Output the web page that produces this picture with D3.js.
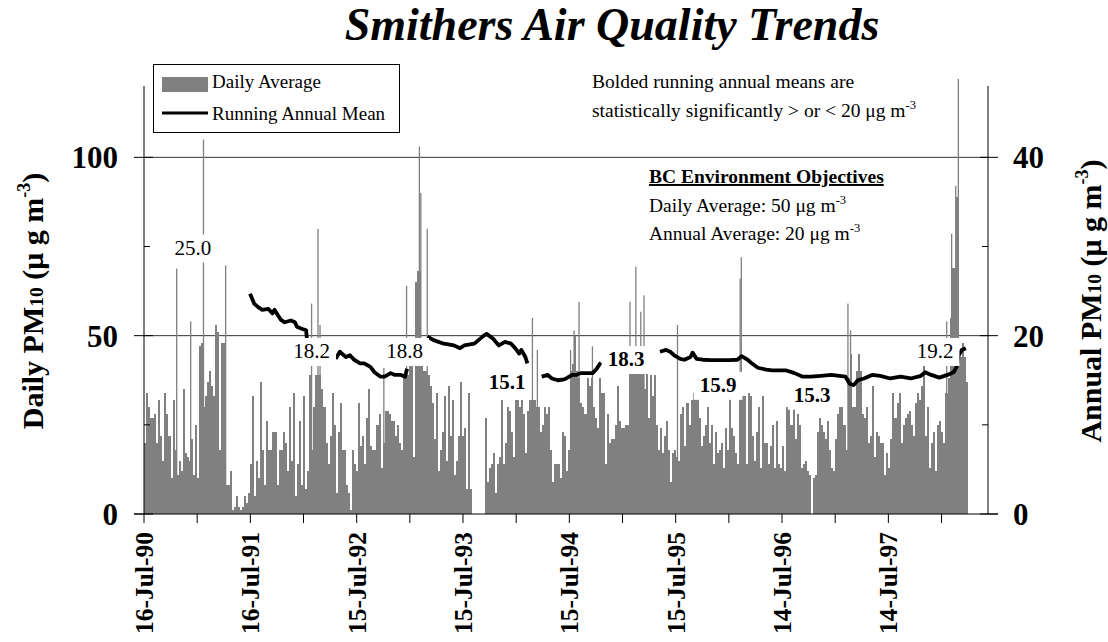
<!DOCTYPE html>
<html>
<head>
<meta charset="utf-8">
<script src="https://cdn.jsdelivr.net/npm/d3@7"></script>
<style>
  body { margin: 0; background: #fff; }
  text { font-family: "Liberation Serif", "Times New Roman", serif; fill: #000; }
</style>
</head>
<body>
<svg id="chart" width="1108" height="642"></svg>
<script>
// daily PM10 at one value per week starting 16-Jul-90
const startDay = "1990-07-16";
const stepDays = 7;
const weeklyPM10 = [
  20,34,30,27,27,28,20,32,22,15, 34,28,22,10,32,18,11,15,12,35,
  17,16,15,21,11,25,10,47,48,30, 33,37,40,36,33,53,51,18,48,48,
  8,8,12,1,2,5,2,1,2,5, 3,6,14,33,5,15,10,37,18,8,
  26,18,18,23,23,8,18,18,23,20, 12,30,15,34,5,14,26,8,33,7,
  12,39,18,30,39,39,39,35,30,20, 14,22,34,25,6,23,31,18,18,8,
  6,1,18,14,12,31,19,22,14,27, 35,19,18,18,25,28,13,20,29,29,
  28,26,26,22,25,20,18,39,39,39, 42,42,16,65,68,68,44,40,40,39,
  36,31,21,34,12,18,23,33,15,36, 22,32,11,15,22,37,22,24,7,34,
  7,null,null,null,null,null,null,27,9,13, 14,17,6,14,16,32,14,20,30,29,
  23,16,32,32,30,32,28,17,29,32, 32,32,30,30,23,25,30,28,30,18,
  9,14,14,14,10,23,22,12,18,40, 42,50,40,38,31,30,28,38,36,38,
  30,27,24,38,34,34,14,28,20,21, 21,25,36,26,24,24,25,25,42,40,
  42,42,40,42,42,35,42,27,39,33, 39,25,18,24,17,22,26,18,9,17,
  18,16,15,28,30,19,31,25,32,34, 33,33,27,19,22,25,30,20,25,14,
  23,17,18,20,13,24,18,33,24,22, 17,14,34,33,33,14,34,33,22,15,
  23,30,13,33,20,20,14,19,25,13, 26,14,13,19,12,30,30,25,30,21,
  28,25,13,14,15,12,11,null,10,11, 23,27,25,23,21,26,18,13,12,21,
  28,30,30,25,18,38,45,30,30,40, 45,40,28,27,30,20,22,36,16,23,
  22,20,20,11,17,13,21,34,27,31, 34,20,25,27,28,29,25,22,31,34,
  32,36,42,22,30,13,20,23,12,25, 26,23,20,34,38,55,69,69,89,44,
  44,48,44,37
];

// single high days
const spikeDates = [
  "1990-11-03","1990-12-21","1991-02-03","1991-04-20","1992-02-09","1992-03-02",
  "1992-03-09","1992-10-14","1992-12-31","1993-02-13","1993-02-18","1993-03-12",
  "1994-03-08","1994-03-25","1994-07-17","1994-07-29","1994-08-15","1994-09-30",
  "1995-02-06","1995-02-26","1995-03-15","1995-03-26","1995-07-19","1996-02-19",
  "1996-02-23","1997-02-23","1997-03-04","1998-01-28","1998-02-14","1998-02-28",
  "1998-03-09"
];
const spikeValues = [
  68.8,54,105,69.7,59,80, 53,41,64,103,90,80, 55,46,46,51.5,59.5,47,
  59.5,69.3,56.7,61.3,53,66, 72,59,51.5,54,78.6,92, 122
];

// running annual mean (right axis), week number since start; null breaks the line
const meanWeeks = [
  52,54,56,58,61,63,64,67,69,72,74,75,77,79.5,80, 81,
  94,96,99,101,103,106,108,111,113,116,118,121,123,126,128,129, 130,
  139,142,147,152,155,157,162,166,168,171,174,177,180,182,184,185,187,188, 189,
  195,198,200,203,206,207,210,212,214,216,220,222,224, 225,
  253,256,258,260,263,265,268,269,271,274,278,283,287,291,293,296,298,301,305,308,
  312,315,319,323,327,332,337,341,344,346,348,350,353,357,361,366,371,376,381,383,
  386,390,394,397,398.5,399.5,401,403
];
const meanValues = [
  24.7,23.6,23.2,22.9,23.0,22.5,22.9,21.8,21.5,21.7,21.5,21.0,20.8,20.6,19.3, null,
  17.4,18.2,17.6,17.8,17.3,16.9,16.9,16.5,15.9,15.4,15.4,15.8,15.6,15.6,15.4,16.3, null,
  19.9,19.5,19.1,18.9,18.6,18.9,19.1,19.9,20.2,19.7,18.9,19.3,19.1,18.6,18.0,18.4,17.6,16.9, null,
  15.4,15.6,15.2,15.0,15.1,15.2,15.6,15.6,15.8,15.8,15.8,16.3,17.0, null,
  18.2,18.4,18.2,17.8,17.4,17.3,17.6,18.1,17.4,17.3,17.25,17.25,17.25,17.3,17.7,17.3,16.9,16.4,16.2,16.1,
  16.1,16.1,15.8,15.4,15.4,15.5,15.6,15.5,15.4,14.6,14.45,15.0,15.2,15.6,15.5,15.2,15.4,15.2,15.5,15.9,
  15.6,15.3,15.6,15.9,16.5,17.8,18.4,18.6
];

const tickDates = ["1990-07-16","1991-07-16","1992-07-15","1993-07-15","1994-07-15","1995-07-15","1996-07-14","1997-07-14"];
const tickLabels = ["16-Jul-90","16-Jul-91","15-Jul-92","15-Jul-93","15-Jul-94","15-Jul-95","14-Jul-96","14-Jul-97"];
const leftTicks = [0, 25, 50, 75, 100];
const rightTicks = [0, 10, 20, 30, 40];
const gridValues = [50, 100];

// annual mean labels (week, right-axis value)
const labelText = ["25.0","18.2","18.8","15.1","18.3","15.9","15.3","19.2"];
const labelWeeks = [24.0, 82.2, 127.8, 178.0, 236.4, 281.5, 327.6, 387.9];
const labelValues = [29.1, 17.5, 17.5, 14.0, 16.6, 13.7, 12.6, 17.5];
const labelBold = [false, false, false, true, true, true, true, false];

const svg = d3.select("#chart");
const parse = d3.utcParse("%Y-%m-%d");
const day = 864e5;
const t0 = parse(startDay);
const weekDate = w => new Date(t0.getTime() + w * stepDays * day);

const x = d3.scaleUtc().domain([t0, parse("1998-06-21")]).range([144, 988]);
const yL = d3.scaleLinear().domain([0, 120]).range([514, 86]);
const yR = d3.scaleLinear().domain([0, 48]).range([514, 86]);

// gridlines
svg.append("g").selectAll("line").data(gridValues).join("line")
  .attr("x1", 144).attr("x2", 988)
  .attr("y1", d => yL(d)).attr("y2", d => yL(d))
  .attr("stroke", "#333").attr("stroke-width", 1);

// weekly bars
const bars = weeklyPM10.map((v, i) => ({ i, v })).filter(d => d.v != null);
svg.append("g").selectAll("rect").data(bars).join("rect")
  .attr("x", d => x(weekDate(d.i)))
  .attr("width", d => x(weekDate(d.i + 1)) - x(weekDate(d.i)))
  .attr("y", d => yL(d.v))
  .attr("height", d => yL(0) - yL(d.v))
  .attr("fill", "#808080")
  .attr("shape-rendering", "crispEdges");

// spikes
svg.append("g").selectAll("rect").data(spikeDates).join("rect")
  .attr("x", d => x(parse(d)))
  .attr("width", 1.3)
  .attr("y", (d, i) => yL(spikeValues[i]))
  .attr("height", (d, i) => yL(0) - yL(spikeValues[i]))
  .attr("fill", "#808080");

// running annual mean
const line = d3.line()
  .defined((d, i) => meanValues[i] != null)
  .x(d => x(weekDate(d)))
  .y((d, i) => yR(meanValues[i]));
svg.append("path")
  .attr("d", line(meanWeeks))
  .attr("fill", "none").attr("stroke", "#000").attr("stroke-width", 3.8)
  .attr("stroke-linejoin", "round");

// mean labels with white boxes
const lab = svg.append("g");
labelText.forEach((t, i) => {
  const g = lab.append("g");
  const tx = g.append("text")
    .attr("x", x(weekDate(labelWeeks[i])))
    .attr("y", yR(labelValues[i]))
    .attr("text-anchor", "middle")
    .attr("font-size", 21)
    .attr("font-weight", labelBold[i] ? "bold" : "normal")
    .text(t);
  const b = tx.node().getBBox();
  g.insert("rect", "text")
    .attr("x", b.x - 6).attr("y", b.y - 1)
    .attr("width", b.width + 12).attr("height", b.height + 4)
    .attr("fill", "#fff");
});

// axes
const ax = svg.append("g").attr("stroke", "#000").attr("stroke-width", 1);
ax.append("line").attr("x1", 144).attr("x2", 144).attr("y1", 86).attr("y2", 514);
ax.append("line").attr("x1", 988).attr("x2", 988).attr("y1", 86).attr("y2", 514);
ax.append("line").attr("x1", 134).attr("x2", 998).attr("y1", 514).attr("y2", 514);
leftTicks.forEach(v => {
  const major = v % 50 === 0;
  ax.append("line").attr("x1", major ? 134 : 144).attr("x2", major ? 153 : 150)
    .attr("y1", yL(v)).attr("y2", yL(v));
});
rightTicks.forEach(v => {
  const major = v % 20 === 0;
  ax.append("line").attr("x1", major ? 980 : 982).attr("x2", major ? 998 : 988)
    .attr("y1", yR(v)).attr("y2", yR(v));
});
// x ticks: yearly labels plus a half-way tick
const xTicks = [];
tickDates.forEach((d, i) => {
  const t = parse(d);
  xTicks.push(t);
  const next = i < tickDates.length - 1 ? parse(tickDates[i + 1]) : d3.utcDay.offset(t, 365);
  xTicks.push(new Date((t.getTime() + next.getTime()) / 2));
});
xTicks.forEach(t => {
  ax.append("line").attr("x1", x(t)).attr("x2", x(t)).attr("y1", 514).attr("y2", 523);
});

// tick labels
svg.append("g").selectAll("text").data(leftTicks.filter(v => v % 50 === 0)).join("text")
  .attr("x", 118).attr("y", d => yL(d)).attr("dy", "0.35em")
  .attr("text-anchor", "end").attr("font-size", 31).attr("font-weight", "bold")
  .text(d => d);
svg.append("g").selectAll("text").data(rightTicks.filter(v => v % 20 === 0)).join("text")
  .attr("x", 1013).attr("y", d => yR(d)).attr("dy", "0.35em")
  .attr("font-size", 31).attr("font-weight", "bold")
  .text(d => d);
svg.append("g").selectAll("text").data(tickDates).join("text")
  .attr("transform", d => `translate(${x(parse(d)) + 9},532) rotate(-90)`)
  .attr("text-anchor", "end").attr("font-size", 25.5).attr("font-weight", "bold")
  .text((d, i) => tickLabels[i]);

// axis titles
function unitTitle(tx, lead) {
  tx.append("tspan").text(lead + "PM");
  tx.append("tspan").attr("font-size", "65%").text("10");
  tx.append("tspan").text(" (\u03bc g m");
  tx.append("tspan").attr("font-size", "60%").attr("dy", "-0.75em").text("-3");
  tx.append("tspan").attr("dy", "0.45em").text(")");
}
unitTitle(svg.append("text")
  .attr("transform", "translate(43,301) rotate(-90)")
  .attr("text-anchor", "middle").attr("font-size", 30).attr("font-weight", "bold"), "Daily ");
unitTitle(svg.append("text")
  .attr("transform", "translate(1101,301) rotate(-90)")
  .attr("text-anchor", "middle").attr("font-size", 30).attr("font-weight", "bold"), "Annual ");

// title
svg.append("text")
  .attr("x", 612).attr("y", 40).attr("text-anchor", "middle")
  .attr("font-size", 46).attr("font-weight", "bold").attr("font-style", "italic")
  .text("Smithers Air Quality Trends");

// legend
const lg = svg.append("g");
lg.append("rect").attr("x", 153.5).attr("y", 64.5).attr("width", 246).attr("height", 68)
  .attr("fill", "#fff").attr("stroke", "#000");
lg.append("rect").attr("x", 162).attr("y", 77).attr("width", 46).attr("height", 15).attr("fill", "#808080");
lg.append("line").attr("x1", 162).attr("x2", 208).attr("y1", 113).attr("y2", 113)
  .attr("stroke", "#000").attr("stroke-width", 3);
lg.append("text").attr("x", 212).attr("y", 88).attr("font-size", 19).text("Daily Average");
lg.append("text").attr("x", 212).attr("y", 120).attr("font-size", 19).text("Running Annual Mean");

// notes
function unitLine(tx, txt) {
  tx.append("tspan").text(txt + " \u03bcg m");
  tx.append("tspan").attr("font-size", "65%").attr("dy", "-0.6em").text("-3");
}
svg.append("text").attr("x", 592).attr("y", 88).attr("font-size", 19.5)
  .text("Bolded running annual means are");
unitLine(svg.append("text").attr("x", 592).attr("y", 117).attr("font-size", 19.5),
  "statistically significantly > or < 20");
svg.append("text").attr("x", 649).attr("y", 183).attr("font-size", 19.5)
  .attr("font-weight", "bold").attr("text-decoration", "underline")
  .text("BC Environment Objectives");
unitLine(svg.append("text").attr("x", 649).attr("y", 212).attr("font-size", 19.5), "Daily Average: 50");
unitLine(svg.append("text").attr("x", 649).attr("y", 240).attr("font-size", 19.5), "Annual Average: 20");
</script>
</body>
</html>
